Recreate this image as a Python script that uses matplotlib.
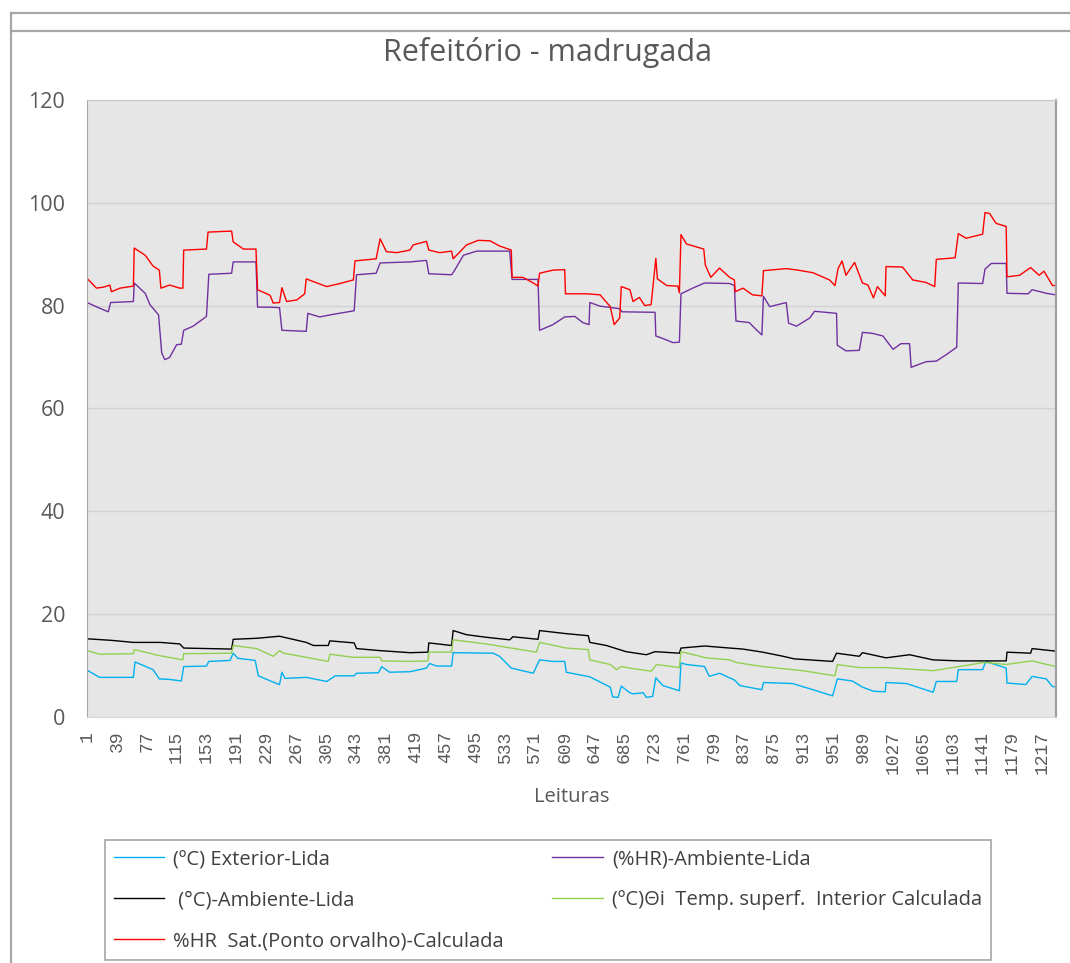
import matplotlib
matplotlib.use("Agg")
import matplotlib.pyplot as plt
from matplotlib.lines import Line2D

n_readings = 1234

# (ºC) Exterior-Lida
ext_x = [1, 17, 60, 62, 85, 93, 106, 121, 124, 153, 156, 183, 187, 193, 215, 219, 236, 246, 249, 253,
         280, 306, 317, 341, 344, 372, 376, 386, 412, 433, 437, 446, 465, 467, 518, 526, 541, 569, 577,
         594, 609, 611, 641, 667, 670, 677, 681, 692, 696, 709, 713, 721, 725, 734, 755, 757, 764, 787,
         793, 806, 819, 825, 832, 860, 862, 899, 925, 950, 956, 975, 988, 1002, 1017, 1018, 1044, 1078,
         1082, 1108, 1110, 1141, 1145, 1171, 1172, 1196, 1204, 1222, 1230, 1234]
ext_y = [9.1, 7.7, 7.7, 10.7, 9.2, 7.4, 7.3, 7.0, 9.8, 9.9, 10.8, 11.0, 12.4, 11.4, 11.0, 8.0, 6.9, 6.3,
         8.7, 7.5, 7.7, 6.9, 8.0, 8.0, 8.5, 8.6, 9.8, 8.7, 8.8, 9.5, 10.4, 9.9, 9.9, 12.5, 12.4, 11.8,
         9.5, 8.5, 11.1, 10.8, 10.8, 8.7, 7.8, 5.8, 3.9, 3.8, 6.0, 4.7, 4.5, 4.7, 3.8, 4.0, 7.6, 6.1,
         5.1, 10.5, 10.2, 9.8, 7.9, 8.5, 7.6, 7.2, 6.1, 5.3, 6.7, 6.5, 5.3, 4.1, 7.4, 7.0, 5.8, 5.0,
         4.9, 6.7, 6.5, 4.8, 6.9, 6.9, 9.2, 9.2, 10.8, 9.5, 6.6, 6.3, 7.9, 7.4, 5.9, 5.9]

# (%HR)-Ambiente-Lida
hr_x = [1, 17, 28, 31, 60, 61, 75, 81, 92, 96, 100, 106, 115, 121, 124, 136, 153, 156, 185, 187, 216,
        218, 234, 246, 249, 280, 282, 297, 314, 341, 344, 369, 374, 412, 433, 436, 465, 469, 480, 497,
        539, 542, 575, 577, 594, 609, 622, 632, 640, 641, 654, 679, 682, 724, 725, 734, 747, 755, 757,
        772, 787, 819, 825, 827, 844, 853, 860, 862, 870, 891, 894, 904, 921, 927, 955, 956, 967, 984,
        988, 1001, 1014, 1027, 1037, 1048, 1050, 1069, 1082, 1094, 1108, 1110, 1141, 1144, 1152, 1171,
        1172, 1199, 1204, 1222, 1234]
hr_y = [80.6, 79.5, 78.8, 80.6, 80.8, 84.4, 82.4, 80.2, 78.2, 70.8, 69.5, 69.9, 72.4, 72.5, 75.2, 76.0,
        77.9, 86.1, 86.3, 88.5, 88.5, 79.7, 79.7, 79.6, 75.2, 75.0, 78.5, 77.8, 78.3, 79.0, 86.0, 86.3,
        88.3, 88.5, 88.8, 86.2, 86.0, 86.9, 89.8, 90.6, 90.6, 85.1, 85.1, 75.2, 76.3, 77.8, 77.9, 76.7,
        76.3, 80.6, 79.9, 79.4, 78.8, 78.7, 74.1, 73.6, 72.8, 72.9, 82.3, 83.4, 84.4, 84.3, 83.9, 77.0,
        76.7, 75.3, 74.3, 81.8, 79.8, 80.6, 76.6, 76.0, 77.6, 78.9, 78.5, 72.3, 71.2, 71.3, 74.8, 74.6,
        74.1, 71.5, 72.6, 72.6, 68.0, 69.1, 69.2, 70.4, 71.9, 84.4, 84.3, 87.1, 88.2, 88.2, 82.4, 82.3,
        83.1, 82.4, 82.1]

# (°C)-Ambiente-Lida
amb_x = [1, 32, 60, 94, 119, 124, 185, 187, 217, 246, 280, 289, 308, 310, 341, 344, 374, 412, 435, 436,
         465, 467, 484, 509, 539, 543, 575, 577, 611, 639, 641, 662, 687, 713, 724, 755, 757, 787, 819,
         836, 861, 887, 901, 950, 955, 984, 988, 1018, 1048, 1078, 1111, 1171, 1172, 1202, 1204, 1234]
amb_y = [15.2, 14.9, 14.5, 14.5, 14.2, 13.4, 13.2, 15.1, 15.3, 15.7, 14.5, 13.9, 13.9, 14.8, 14.4, 13.3,
         12.9, 12.5, 12.6, 14.4, 13.9, 16.8, 16.0, 15.5, 15.0, 15.6, 15.1, 16.8, 16.2, 15.8, 14.5, 13.9,
         12.7, 12.1, 12.7, 12.4, 13.4, 13.8, 13.4, 13.2, 12.6, 11.8, 11.3, 10.8, 12.4, 11.8, 12.5, 11.5,
         12.1, 11.1, 10.9, 10.9, 12.6, 12.4, 13.3, 12.8]

# (ºC)Θi Temp. superf. Interior Calculada
sup_x = [1, 17, 60, 61, 94, 123, 124, 185, 187, 217, 238, 246, 251, 280, 308, 310, 340, 374, 376, 412,
         435, 436, 465, 467, 509, 573, 577, 611, 639, 641, 667, 675, 681, 696, 719, 726, 755, 757, 789,
         819, 827, 861, 912, 953, 956, 984, 1018, 1078, 1111, 1143, 1171, 1204, 1234]
sup_y = [12.9, 12.2, 12.3, 13.1, 11.9, 11.1, 12.3, 12.4, 13.9, 13.3, 11.8, 12.9, 12.4, 11.6, 10.8, 12.2,
         11.6, 11.6, 10.9, 10.8, 10.9, 12.6, 12.6, 15.0, 14.2, 12.6, 14.5, 13.4, 13.1, 11.1, 10.2, 9.2,
         9.8, 9.4, 8.9, 10.2, 9.6, 12.7, 11.5, 11.1, 10.6, 9.8, 9.0, 8.0, 10.2, 9.6, 9.6, 9.0, 9.8, 10.6,
         10.2, 10.9, 9.8]

# %HR Sat.(Ponto orvalho)-Calculada
sat_x = [1, 13, 22, 30, 32, 43, 60, 61, 75, 85, 93, 95, 106, 119, 123, 124, 153, 155, 185, 187, 200,
         216, 218, 234, 238, 246, 249, 255, 268, 278, 280, 306, 323, 340, 342, 369, 374, 382, 395, 412,
         416, 433, 436, 450, 465, 467, 484, 499, 514, 526, 541, 542, 556, 569, 575, 577, 594, 609, 610,
         637, 654, 667, 672, 679, 681, 692, 696, 704, 711, 719, 725, 727, 739, 753, 755, 757, 764, 786,
         788, 795, 806, 819, 825, 826, 836, 848, 860, 862, 891, 906, 925, 946, 953, 957, 962, 967, 978,
         988, 995, 1002, 1007, 1017, 1018, 1039, 1052, 1069, 1080, 1082, 1106, 1110, 1120, 1141, 1144,
         1150, 1158, 1171, 1172, 1188, 1202, 1213, 1219, 1230, 1234]
sat_y = [85.3, 83.4, 83.6, 84.0, 82.7, 83.4, 83.8, 91.2, 89.8, 87.7, 86.9, 83.4, 84.0, 83.4, 83.4, 90.8,
         91.0, 94.3, 94.5, 92.4, 91.0, 91.0, 83.1, 82.0, 80.5, 80.6, 83.5, 80.8, 81.1, 82.3, 85.2, 83.7,
         84.3, 85.0, 88.7, 89.1, 93.0, 90.5, 90.3, 90.8, 91.8, 92.5, 90.8, 90.3, 90.6, 89.1, 91.8, 92.7,
         92.6, 91.6, 90.8, 85.5, 85.5, 84.4, 83.8, 86.3, 86.9, 87.0, 82.3, 82.3, 82.1, 79.8, 76.3, 77.6,
         83.7, 83.1, 80.8, 81.6, 80.0, 80.2, 89.2, 85.2, 83.9, 83.8, 82.5, 93.8, 92.0, 91.0, 87.9, 85.5,
         87.3, 85.5, 85.0, 82.7, 83.4, 82.1, 81.9, 86.8, 87.2, 86.9, 86.4, 85.0, 83.9, 87.2, 88.7, 85.9,
         88.4, 84.4, 84.0, 81.5, 83.7, 81.9, 87.6, 87.5, 85.0, 84.5, 83.7, 89.0, 89.3, 94.0, 93.1, 93.9,
         98.1, 97.9, 96.0, 95.4, 85.6, 85.9, 87.4, 85.9, 86.7, 83.9, 83.9]

tick_labels = list(range(1, n_readings + 1, 38))

plt.rcParams['font.family'] = ['Open Sans', 'DejaVu Sans']
text_color = '#595959'

fig = plt.figure(figsize=(10.7, 9.63), dpi=100)
ax = fig.add_axes([0.081, 0.2555, 0.906, 0.6407])
ax.set_facecolor('#E6E6E6')

l_ext, = ax.plot(ext_x, ext_y, color='#00B0F0', lw=1.0, label='(ºC) Exterior-Lida')
l_hr, = ax.plot(hr_x, hr_y, color='#7030A0', lw=1.0, label='(%HR)-Ambiente-Lida')
l_amb, = ax.plot(amb_x, amb_y, color='black', lw=1.0, label=' (°C)-Ambiente-Lida')
l_sup, = ax.plot(sup_x, sup_y, color='#92D050', lw=1.0, label='(ºC)Θi  Temp. superf.  Interior Calculada')
l_sat, = ax.plot(sat_x, sat_y, color='#FF0000', lw=1.0, label='%HR  Sat.(Ponto orvalho)-Calculada')

ax.set_xlim(0.5, n_readings + 0.5)
ax.set_ylim(0, 120)
ax.set_yticks(range(0, 121, 20))
ax.set_xticks(tick_labels)
ax.set_xticklabels([str(t) for t in tick_labels], rotation=90, family='Liberation Mono',
                   fontsize=13, color=text_color, va='top')
ax.tick_params(axis='x', length=0, pad=10)
ax.tick_params(axis='y', length=0, pad=15.5, labelsize=15.5, labelcolor=text_color)
ax.grid(axis='y', color='#D2D2D2', lw=1.0)
ax.set_axisbelow(True)
ax.spines['left'].set_color('#A6A6A6')
ax.spines['top'].set_color('#C8C8C8')
ax.spines['bottom'].set_color('#D9D9D9')
ax.spines['right'].set_color('#A0A0A0')
ax.spines['right'].set_linewidth(1.6)

fig.text(548 / 1070, 1 - 53 / 963, 'Refeitório - madrugada', ha='center', va='center',
         fontsize=22, color=text_color)
fig.text(572 / 1070, 1 - 797 / 963, 'Leituras', ha='center', va='center',
         fontsize=14.5, color=text_color)

# outer chart frame
frame_kw = dict(color='#A6A6A6', lw=1.6, transform=fig.transFigure)
fig.add_artist(Line2D([11 / 1070, 1], [1 - 13 / 963, 1 - 13 / 963], **frame_kw))
fig.add_artist(Line2D([11 / 1070, 1], [1 - 31 / 963, 1 - 31 / 963], **frame_kw))
fig.add_artist(Line2D([11 / 1070, 11 / 1070], [0, 1 - 13 / 963], **frame_kw))

handles = [l_ext, l_amb, l_sat, l_hr, l_sup]
leg = fig.legend(handles, [h.get_label() for h in handles],
                 ncol=2, loc='upper left', bbox_to_anchor=(105 / 1070, 1 - 840 / 963),
                 borderaxespad=0, fontsize=14.5, handlelength=2.5, handletextpad=0.45,
                 labelspacing=1.05, columnspacing=2.4, borderpad=0.45, fancybox=False,
                 framealpha=1, edgecolor='#A6A6A6', labelcolor='#404040')
leg.get_frame().set_linewidth(1.2)

fig.savefig('out.png', dpi=100)
